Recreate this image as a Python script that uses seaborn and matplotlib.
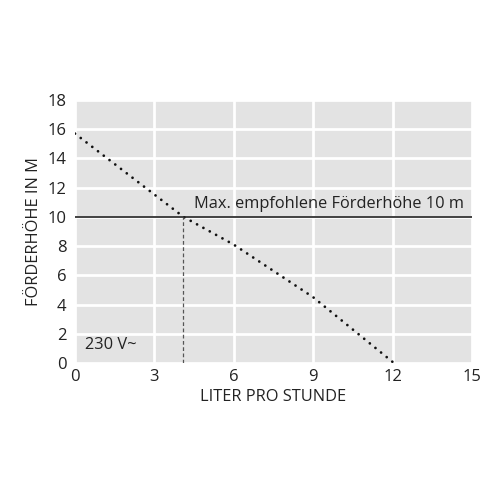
import pandas as pd
import seaborn as sns
import matplotlib.pyplot as plt

# Kennlinie
liter = [0, 4.1, 6, 9, 12.05]
hoehe = [15.7, 10, 8.1, 4.5, 0]
max_hoehe = 10
x_bei_max = 4.08
x_ticks = [0, 3, 6, 9, 12, 15]
y_ticks = [0, 2, 4, 6, 8, 10, 12, 14, 16, 18]


def main():
    sns.set_style("darkgrid", {"axes.facecolor": "#e3e3e3", "grid.color": "white"})
    plt.rcParams["font.family"] = ["Open Sans", "DejaVu Sans"]

    fig = plt.figure(figsize=(5, 5), dpi=100)
    ax = fig.add_axes([0.15, 0.274, 0.794, 0.526])

    df = pd.DataFrame({"liter": liter, "hoehe": hoehe})
    sns.lineplot(x="liter", y="hoehe", data=df, ax=ax, color="#111111",
                 linewidth=2.0, linestyle=(0, (0.01, 2.6)), dash_capstyle="round")

    ax.axhline(max_hoehe, color="#222222", linewidth=1.2)
    ax.plot([x_bei_max, x_bei_max], [0, max_hoehe], color="#555555",
            linewidth=0.9, linestyle=(0, (3, 2)))

    ax.text(4.5, 10.35, "Max. empfohlene Förderhöhe 10 m", fontsize=11.8,
            color="#222222", va="bottom", ha="left")
    ax.text(0.38, 1.2, "230 V~", fontsize=11.8, color="#222222", va="center")

    ax.set_xlim(0, 15)
    ax.set_ylim(0, 18)
    ax.set_xticks(x_ticks)
    ax.set_yticks(y_ticks)
    ax.grid(True, color="white", linewidth=2)
    ax.tick_params(axis="both", length=0, labelsize=12, colors="#222222")
    ax.tick_params(axis="x", pad=4)
    ax.tick_params(axis="y", pad=6)
    for s in ax.spines.values():
        s.set_visible(False)

    ax.set_xlabel("LITER PRO STUNDE", fontsize=11.8, color="#222222", labelpad=3)
    ax.set_ylabel("FÖRDERHÖHE IN M", fontsize=11.8, color="#222222", labelpad=4)

    plt.savefig("out.png", dpi=100)


if __name__ == "__main__":
    main()
